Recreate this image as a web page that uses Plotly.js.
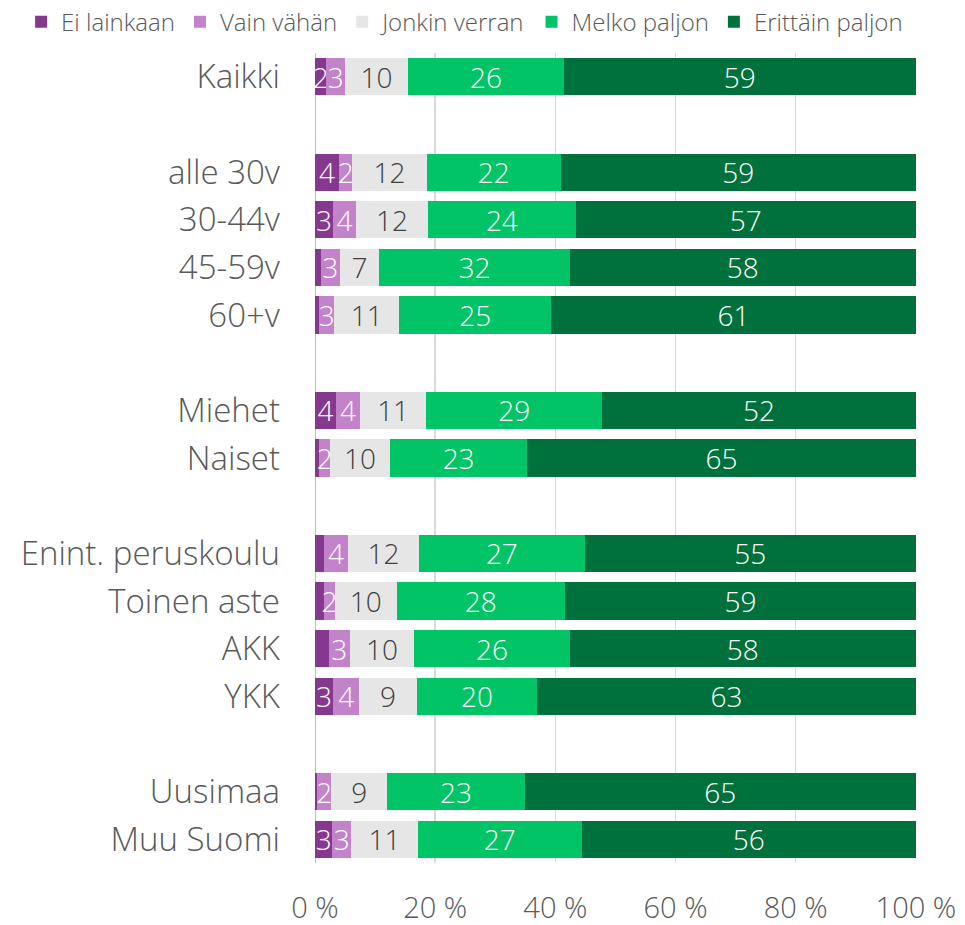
<!DOCTYPE html>
<html><head><meta charset="utf-8">
<script src="https://cdn.plot.ly/plotly-3.0.1.min.js"></script>
<style>html,body{margin:0;padding:0;background:#fff}#chart{width:965px;height:925px}</style>
</head><body><div id="chart"></div>
<script>
const categories = ["Kaikki", " ", "alle 30v", "30-44v", "45-59v", "60+v", "  ", "Miehet", "Naiset", "   ", "Enint. peruskoulu", "Toinen aste", "AKK", "YKK", "    ", "Uusimaa", "Muu Suomi"];
const seriesNames = ["Ei lainkaan", "Vain vähän", "Jonkin verran", "Melko paljon", "Erittäin paljon"];
const eiLainkaan   = [1.9, null, 4.0, 3.0, 1.0, 0.7, null, 3.5, 0.7, null, 1.5, 1.5, 2.3, 3.0, null, 0.4, 2.9];
const vainVahan    = [3.1, null, 2.2, 3.8, 3.1, 2.5, null, 4.0, 1.8, null, 4.0, 1.8, 3.5, 4.4, null, 2.3, 3.1];
const jonkinVerran = [10.5, null, 12.4, 12.0, 6.6, 10.8, null, 11.0, 10.0, null, 11.8, 10.3, 10.7, 9.5, null, 9.3, 11.1];
const melkoPaljon  = [25.9, null, 22.3, 24.6, 31.7, 25.3, null, 29.3, 22.8, null, 27.6, 28.0, 25.9, 20.1, null, 22.9, 27.3];
const erittainPaljon = [58.6, null, 59.1, 56.6, 57.6, 60.7, null, 52.2, 64.7, null, 55.1, 58.4, 57.6, 63.0, null, 65.1, 55.6];
const eiLabels   = ["2", "", "4", "3", "", "", "", "4", "", "", "", "", "", "3", "", "", "3"];
const vainLabels = ["3", "", "2", "4", "3", "3", "", "4", "2", "", "4", "2", "3", "4", "", "2", "3"];
const jonkinLabels = ["10", "", "12", "12", "7", "11", "", "11", "10", "", "12", "10", "10", "9", "", "9", "11"];
const melkoLabels = ["26", "", "22", "24", "32", "25", "", "29", "23", "", "27", "28", "26", "20", "", "23", "27"];
const erittainLabels = ["59", "", "59", "57", "58", "61", "", "52", "65", "", "55", "59", "58", "63", "", "65", "56"];
const xTicks = [0, 20, 40, 60, 80, 100];

const colors = ["#86388F", "#C283CB", "#E6E6E6", "#00C465", "#00703C"];
const textColors = ["#ffffff", "#ffffff", "#404040", "#ffffff", "#ffffff"];
const values = [eiLainkaan, vainVahan, jonkinVerran, melkoPaljon, erittainPaljon];
const labels = [eiLabels, vainLabels, jonkinLabels, melkoLabels, erittainLabels];
const FONT = "'Open Sans', sans-serif";

const traces = seriesNames.map((n, i) => ({
  type: "bar", orientation: "h", name: n,
  y: categories, x: values[i],
  marker: {color: colors[i], line: {width: 0}},
  text: labels[i], texttemplate: "%{text}",
  textposition: "inside", insidetextanchor: "middle", textangle: 0,
  constraintext: "none", cliponaxis: false,
  textfont: {family: FONT, size: 28, weight: 300, color: textColors[i]},
  hoverinfo: "skip"
}));

const layout = {
  width: 965, height: 925,
  margin: {l: 315, r: 49, t: 53, b: 62, autoexpand: false},
  barmode: "stack", bargap: 0.22,
  paper_bgcolor: "#fff", plot_bgcolor: "#fff",
  font: {family: FONT, color: "#595959", weight: 300},
  uniformtext: {mode: "show", minsize: 28},
  xaxis: {range: [0, 100.02], tickvals: xTicks, ticktext: xTicks.map(v => v + " %"),
          showgrid: true, gridcolor: "#D9D9D9", gridwidth: 1.5, zeroline: false,
          showline: false, ticks: "", tickfont: {family: FONT, size: 29, weight: 300, color: "#595959"},
          ticklabelstandoff: 25, fixedrange: true},
  yaxis: {type: "category", autorange: "reversed", showgrid: false, zeroline: false,
          showline: false, ticks: "", ticklabelstandoff: 34,
          tickfont: {family: FONT, size: 33, weight: 300, color: "#595959"}},
  showlegend: true,
  legend: {orientation: "h", x: -0.489, xanchor: "left", y: 1.066, yanchor: "top",
           font: {family: FONT, size: 24, weight: 300, color: "#595959"}, traceorder: "normal", itemwidth: 30,
           bgcolor: "rgba(0,0,0,0)"},
  shapes: [{type: "line", xref: "x", yref: "paper", x0: 0, x1: 0, y0: 0, y1: 1,
            line: {color: "#BFBFBF", width: 2}, layer: "below"}]
};

Plotly.newPlot("chart", traces, layout, {displayModeBar: false, staticPlot: true});
</script></body></html>
